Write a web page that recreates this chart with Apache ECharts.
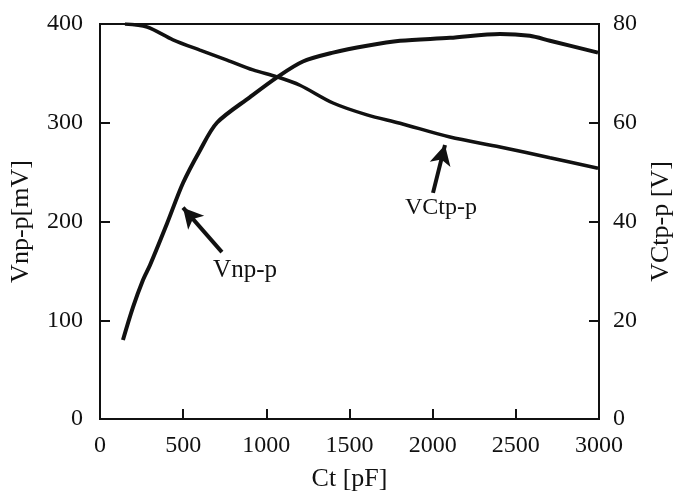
<!DOCTYPE html>
<html>
<head>
<meta charset="utf-8">
<script src="https://cdn.jsdelivr.net/npm/echarts@6/dist/echarts.min.js"></script>
<style>
  html, body { margin: 0; padding: 0; background: #fff; }
  #chart { width: 675px; height: 496px; }
</style>
</head>
<body>
<div id="chart"></div>
<script>
// Ct [pF] vs noise amplitude Vnp-p [mV] (left axis)
const vnpCt  = [138, 198, 259, 301, 403, 499, 601, 703, 902, 1064, 1220, 1401, 1605, 1804, 2104, 2405, 2584, 2705, 2994];
const vnpVal = [80, 113, 141, 156, 198, 239, 272, 300, 326, 346, 362, 371, 378, 383, 386, 390, 388, 383, 371];

// Ct [pF] vs capacitor voltage VCtp-p [V] (right axis)
const vctCt  = [150, 283, 439, 601, 764, 920, 1064, 1202, 1401, 1605, 1804, 2104, 2405, 2705, 2994];
const vctVal = [80, 79.4, 76.8, 74.7, 72.7, 70.7, 69.3, 67.6, 64.0, 61.6, 59.9, 57.1, 55.1, 52.9, 50.8];

// Axis ticks
const xTicks = [0, 500, 1000, 1500, 2000, 2500, 3000];
const leftTicks = [0, 100, 200, 300, 400];
const rightTicks = [0, 20, 40, 60, 80];

// Callout annotations: [tail, tip] in data units, and label positions
const vnpArrow = [[733, 169], [499, 214]];
const vnpLabel = [872, 150];
const vctArrow = [[2002, 45.8], [2074, 55.5]];
const vctLabel = [2050, 42.7];

const FONT = '"Liberation Serif", "DejaVu Serif", serif';
const INK = '#111';
const TICK_SIZE = 24;
const NAME_SIZE = 26;

const pair = (xs, ys) => xs.map((x, i) => [x, ys[i]]);

const axisCommon = {
  axisLine: { show: true, lineStyle: { color: INK, width: 2 } },
  axisTick: { show: true, inside: true, length: 10, lineStyle: { color: INK, width: 2 } },
  splitLine: { show: false },
  axisLabel: { color: INK, fontFamily: FONT, fontSize: TICK_SIZE, formatter: v => String(v) },
  nameTextStyle: { color: INK, fontFamily: FONT, fontSize: NAME_SIZE }
};

const chart = echarts.init(document.getElementById('chart'), null, { renderer: 'canvas' });

chart.setOption({
  backgroundColor: '#fff',
  animation: false,
  grid: {
    left: 100, right: 76, top: 24, bottom: 77,
    containLabel: false, outerBoundsMode: 'none',
    show: true, borderColor: INK, borderWidth: 2, backgroundColor: 'transparent'
  },
  xAxis: Object.assign({}, axisCommon, {
    type: 'value',
    min: xTicks[0], max: xTicks[xTicks.length - 1], interval: 500,
    name: 'Ct [pF]', nameLocation: 'middle', nameGap: 47,
    axisLabel: Object.assign({}, axisCommon.axisLabel, { margin: 15 })
  }),
  yAxis: [
    Object.assign({}, axisCommon, {
      type: 'value', position: 'left',
      min: leftTicks[0], max: leftTicks[leftTicks.length - 1], interval: 100,
      name: 'Vnp-p[mV]', nameLocation: 'middle', nameGap: 66, nameRotate: 90,
      axisLabel: Object.assign({}, axisCommon.axisLabel, { margin: 17 })
    }),
    Object.assign({}, axisCommon, {
      type: 'value', position: 'right',
      min: rightTicks[0], max: rightTicks[rightTicks.length - 1], interval: 20,
      name: 'VCtp-p [V]', nameLocation: 'middle', nameGap: 49, nameRotate: 90,
      axisLabel: Object.assign({}, axisCommon.axisLabel, { margin: 14 })
    })
  ],
  series: [
    {
      name: 'Vnp-p', type: 'line', yAxisIndex: 0,
      data: pair(vnpCt, vnpVal),
      smooth: 0.3, showSymbol: false,
      lineStyle: { color: INK, width: 4 },
      markLine: {
        silent: true, animation: false,
        symbol: ['none', 'arrow'], symbolSize: [16, 20],
        lineStyle: { color: INK, width: 4, type: 'solid' },
        label: { show: false },
        data: [[{ coord: vnpArrow[0] }, { coord: vnpArrow[1] }]]
      },
      markPoint: {
        silent: true, symbol: 'circle', symbolSize: 0,
        label: { show: true, position: 'inside', color: INK, fontFamily: FONT, fontSize: NAME_SIZE - 1, formatter: 'Vnp-p' },
        data: [{ coord: vnpLabel }]
      }
    },
    {
      name: 'VCtp-p', type: 'line', yAxisIndex: 1,
      data: pair(vctCt, vctVal),
      smooth: 0.3, showSymbol: false,
      lineStyle: { color: INK, width: 3.5 },
      markLine: {
        silent: true, animation: false,
        symbol: ['none', 'arrow'], symbolSize: [16, 20],
        lineStyle: { color: INK, width: 4, type: 'solid' },
        label: { show: false },
        data: [[{ coord: vctArrow[0] }, { coord: vctArrow[1] }]]
      },
      markPoint: {
        silent: true, symbol: 'circle', symbolSize: 0,
        label: { show: true, position: 'inside', color: INK, fontFamily: FONT, fontSize: NAME_SIZE - 2, formatter: 'VCtp-p' },
        data: [{ coord: vctLabel }]
      }
    }
  ]
});
</script>
</body>
</html>
